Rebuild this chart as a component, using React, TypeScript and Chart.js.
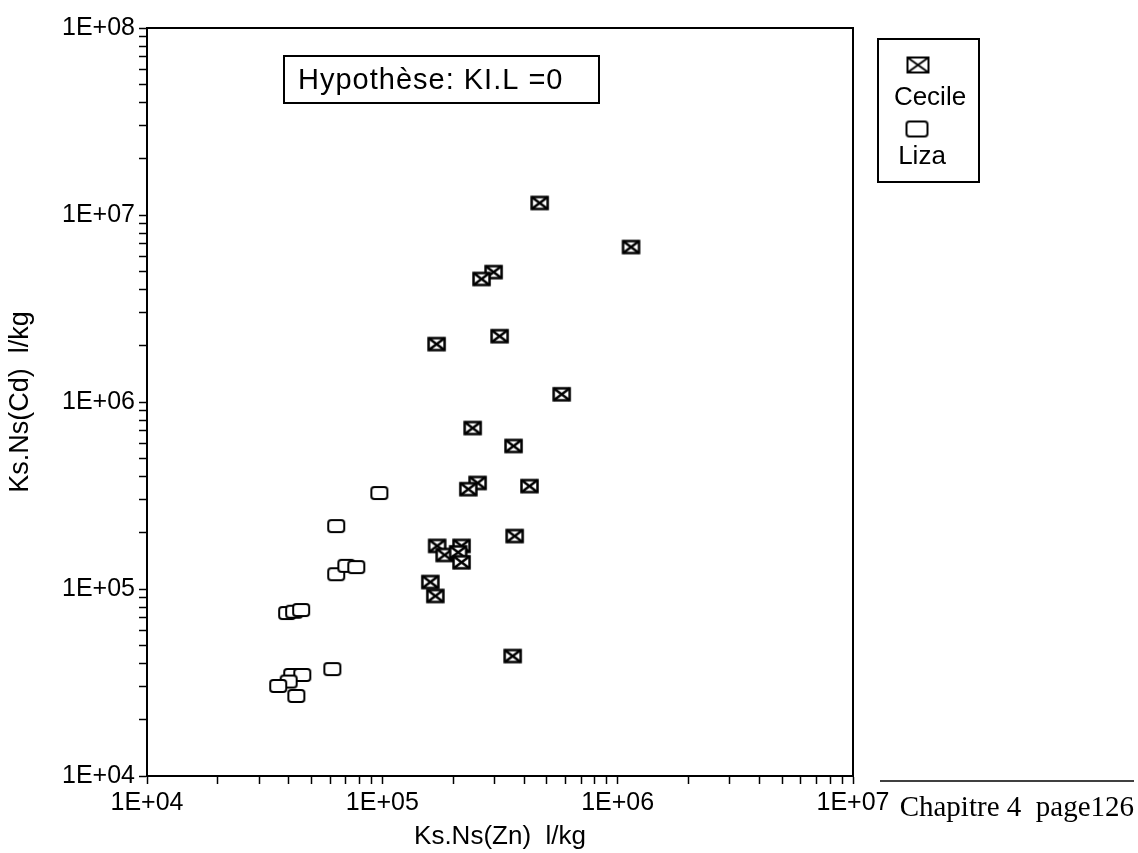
import React, { useEffect, useRef } from 'react';
import { Chart, registerables } from 'chart.js';

Chart.register(...registerables);

// ---- data ----
const cecileX = [4.66e5, 1.14e6, 2.97e5, 2.64e5, 3.15e5, 1.70e5, 5.78e5, 2.42e5, 3.61e5, 2.54e5, 2.32e5, 4.22e5, 3.65e5, 1.71e5, 1.84e5, 2.17e5, 2.10e5, 2.17e5, 1.60e5, 1.68e5, 3.58e5];
const cecileY = [1.16e7, 6.74e6, 4.95e6, 4.55e6, 2.25e6, 2.04e6, 1.10e6, 7.26e5, 5.82e5, 3.69e5, 3.42e5, 3.55e5, 1.92e5, 1.70e5, 1.52e5, 1.70e5, 1.57e5, 1.39e5, 1.09e5, 9.18e4, 4.38e4];

const lizaX = [9.71e4, 6.37e4, 6.37e4, 7.03e4, 7.75e4, 3.94e4, 4.22e4, 4.52e4, 6.13e4, 4.14e4, 4.57e4, 4.0e4, 3.61e4, 4.31e4];
const lizaY = [3.26e5, 2.17e5, 1.20e5, 1.33e5, 1.31e5, 7.44e4, 7.56e4, 7.72e4, 3.73e4, 3.47e4, 3.47e4, 3.2e4, 3.03e4, 2.68e4];

const seriesLabels = ['Cecile', 'Liza'];

const xDecades = [1e4, 1e5, 1e6, 1e7];
const xTickLabels = ['1E+04', '1E+05', '1E+06', '1E+07'];
const yDecades = [1e4, 1e5, 1e6, 1e7, 1e8];
const yTickLabels = ['1E+04', '1E+05', '1E+06', '1E+07', '1E+08'];
const minorMultipliers = [1, 2, 3, 4, 5, 6, 7, 8, 9];

const xTitle = 'Ks.Ns(Zn)  l/kg';
const yTitle = 'Ks.Ns(Cd)  l/kg';
const noteText = 'Hypoth\u00e8se: KI.L =0';
const footerText = 'Chapitre 4  page126';

const SANS = '"Liberation Sans", Arial, sans-serif';
const SERIF = '"Liberation Serif", "Times New Roman", serif';

function buildTickValues(decades: number[]): number[] {
  const out: number[] = [];
  decades.forEach((d, i) => {
    if (i === decades.length - 1) {
      out.push(d);
    } else {
      minorMultipliers.forEach((m) => out.push(m * d));
    }
  });
  return out;
}

function makeMarker(w: number, h: number, cross: boolean, lw: number): HTMLCanvasElement {
  const c = document.createElement('canvas');
  c.width = w + lw * 2;
  c.height = h + lw * 2;
  const g = c.getContext('2d')!;
  g.strokeStyle = '#000';
  g.lineWidth = lw;
  const x0 = lw, y0 = lw;
  if (cross) {
    g.fillStyle = '#fff';
    g.fillRect(x0, y0, w, h);
    g.strokeRect(x0, y0, w, h);
    g.beginPath();
    g.moveTo(x0, y0);
    g.lineTo(x0 + w, y0 + h);
    g.moveTo(x0 + w, y0);
    g.lineTo(x0, y0 + h);
    g.stroke();
  } else {
    const r = 3;
    g.fillStyle = '#fff';
    g.beginPath();
    g.moveTo(x0 + r, y0);
    g.lineTo(x0 + w - r, y0);
    g.quadraticCurveTo(x0 + w, y0, x0 + w, y0 + r);
    g.lineTo(x0 + w, y0 + h - r);
    g.quadraticCurveTo(x0 + w, y0 + h, x0 + w - r, y0 + h);
    g.lineTo(x0 + r, y0 + h);
    g.quadraticCurveTo(x0, y0 + h, x0, y0 + h - r);
    g.lineTo(x0, y0 + r);
    g.quadraticCurveTo(x0, y0, x0 + r, y0);
    g.closePath();
    g.fill();
    g.stroke();
  }
  return c;
}

export default function App() {
  const ref = useRef<HTMLCanvasElement | null>(null);

  useEffect(() => {
    document.body.style.margin = '0';
    const canvas = ref.current;
    if (!canvas) return;

    const cecileMarker = makeMarker(16, 12, true, 2.5);
    const lizaMarker = makeMarker(16, 12, false, 2);
    const cecileLegend = makeMarker(21, 15, true, 2);
    const lizaLegend = makeMarker(21, 15, false, 2);
    const legendMarkers = [cecileLegend, lizaLegend];

    const xTicks = buildTickValues(xDecades);
    const yTicks = buildTickValues(yDecades);

    const decorPlugin = {
      id: 'decor',
      afterDraw(chart: any) {
        const ctx = chart.ctx as CanvasRenderingContext2D;
        const a = chart.chartArea;
        ctx.save();
        // frame top & right
        ctx.strokeStyle = '#000';
        ctx.lineWidth = 2;
        ctx.beginPath();
        ctx.moveTo(a.left, a.top);
        ctx.lineTo(a.right, a.top);
        ctx.lineTo(a.right, a.bottom);
        ctx.stroke();

        // annotation box
        ctx.lineWidth = 2;
        ctx.strokeRect(284, 56, 315, 47);
        ctx.fillStyle = '#000';
        ctx.font = `29px ${SANS}`;
        (ctx as any).letterSpacing = '1px';
        ctx.textAlign = 'left';
        ctx.textBaseline = 'middle';
        ctx.fillText(noteText, 298, 81);
        (ctx as any).letterSpacing = '0px';

        // legend box
        ctx.strokeRect(878, 39, 101, 143);
        const markerPos = [[918, 65], [917, 129]];
        const textPos = [[930, 98], [922, 157]];
        chart.data.datasets.forEach((ds: any, i: number) => {
          const m = legendMarkers[i];
          ctx.drawImage(m, markerPos[i][0] - m.width / 2, markerPos[i][1] - m.height / 2);
          ctx.font = `26px ${SANS}`;
          ctx.textAlign = 'center';
          ctx.textBaseline = 'middle';
          ctx.fillText(ds.label, textPos[i][0], textPos[i][1]);
        });

        // footer
        ctx.lineWidth = 1.5;
        ctx.beginPath();
        ctx.moveTo(880, 781);
        ctx.lineTo(1134, 781);
        ctx.stroke();
        ctx.font = `29px ${SERIF}`;
        ctx.textAlign = 'right';
        ctx.textBaseline = 'alphabetic';
        ctx.fillText(footerText, 1134, 816);
        ctx.restore();
      },
    };

    const labelFor = (decades: number[], labels: string[]) => (v: any) => {
      const idx = decades.indexOf(Number(v));
      return idx >= 0 ? labels[idx] : '';
    };

    const chart = new Chart(canvas, {
      type: 'scatter',
      data: {
        datasets: [
          {
            label: seriesLabels[0],
            data: cecileX.map((x, i) => ({ x, y: cecileY[i] })),
            pointStyle: cecileMarker as any,
            pointRadius: 8,
            showLine: false,
          },
          {
            label: seriesLabels[1],
            data: lizaX.map((x, i) => ({ x, y: lizaY[i] })),
            pointStyle: lizaMarker as any,
            pointRadius: 8,
            showLine: false,
          },
        ],
      },
      options: {
        responsive: false,
        animation: false,
        events: [],
        layout: { padding: { left: 0, top: 28, right: 285, bottom: 0 } },
        plugins: {
          legend: { display: false },
          tooltip: { enabled: false },
        },
        scales: {
          x: {
            type: 'logarithmic',
            position: 'bottom',
            min: 1e4,
            max: 1e7,
            afterBuildTicks: (s: any) => {
              s.ticks = xTicks.map((v) => ({ value: v }));
            },
            afterFit: (s: any) => {
              s.height = 77;
            },
            grid: { drawOnChartArea: false, drawTicks: true, tickLength: 8, tickColor: '#000', tickWidth: 1.5 },
            border: { display: true, color: '#000', width: 2 },
            ticks: {
              autoSkip: false,
              maxRotation: 0,
              minRotation: 0,
              padding: 4,
              color: '#000',
              font: { family: SANS, size: 25 },
              callback: labelFor(xDecades, xTickLabels),
            },
            title: {
              display: true,
              text: xTitle,
              color: '#000',
              font: { family: SANS, size: 26 },
              padding: { top: 0, bottom: 1 },
            },
          },
          y: {
            type: 'logarithmic',
            position: 'left',
            min: 1e4,
            max: 1e8,
            afterBuildTicks: (s: any) => {
              s.ticks = yTicks.map((v) => ({ value: v }));
            },
            afterFit: (s: any) => {
              s.width = 147;
            },
            grid: { drawOnChartArea: false, drawTicks: true, tickLength: 8, tickColor: '#000', tickWidth: 1.5 },
            border: { display: true, color: '#000', width: 2 },
            ticks: {
              autoSkip: false,
              padding: 4,
              color: '#000',
              font: { family: SANS, size: 25 },
              callback: labelFor(yDecades, yTickLabels),
            },
            title: {
              display: true,
              text: yTitle,
              color: '#000',
              font: { family: SANS, size: 27 },
              padding: { top: 4, bottom: 0 },
            },
          },
        },
      },
      plugins: [decorPlugin],
    } as any);

    return () => {
      chart.destroy();
    };
  }, []);

  return (
    <div style={{ width: 1138, height: 853, background: '#fff' }}>
      <canvas ref={ref} width={1138} height={853} style={{ display: 'block' }} />
    </div>
  );
}
